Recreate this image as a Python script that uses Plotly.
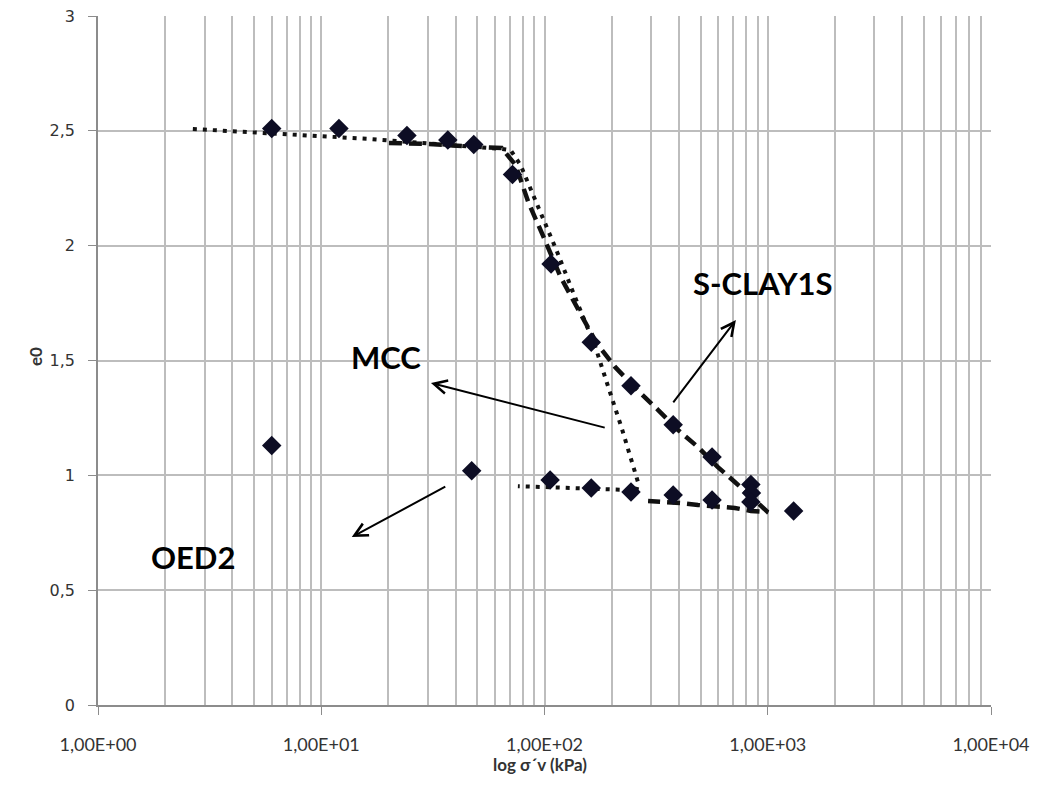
import plotly.graph_objects as go
import math

# ---- data ----
# measured points (OED2)
oed_x = [6.0, 12.0, 24.2, 36.9, 48.2, 71.9, 107, 162, 244, 377, 563, 840,
         6.0, 47.2, 106, 162, 244, 377, 563, 845, 840, 1306]
oed_y = [2.51, 2.51, 2.48, 2.46, 2.44, 2.31, 1.92, 1.58, 1.39, 1.22, 1.08, 0.96,
         1.13, 1.02, 0.98, 0.945, 0.927, 0.914, 0.893, 0.923, 0.884, 0.845]

# MCC model (dotted)
mcc_x = [2.66, 16.9, 66, 70.5, 78.1, 94.0, 113, 137, 169, 193, 221, 255, 263, 258, 160, 76]
mcc_y = [2.508, 2.464, 2.42, 2.416, 2.351, 2.168, 1.981, 1.776, 1.559, 1.385, 1.21, 1.01, 0.967, 0.935, 0.942, 0.953]

# S-CLAY1S model (dashed)
sc_x = [20.1, 29.4, 42.6, 60.4, 64.3, 74.2, 84.9, 99, 118, 142, 171, 207, 255, 323, 397, 487, 598, 712,
        1000, 840, 712, 487, 409, 291]
sc_y = [2.447, 2.443, 2.434, 2.425, 2.425, 2.351, 2.186, 2.038, 1.864, 1.72, 1.576, 1.472, 1.38, 1.284,
        1.197, 1.123, 1.036, 0.971, 0.84, 0.845, 0.858, 0.871, 0.879, 0.888]

x_tickvals = [1, 10, 100, 1000, 10000]
x_ticktext = ["1,00E+00", "1,00E+01", "1,00E+02", "1,00E+03", "1,00E+04"]
y_tickvals = [0, 0.5, 1, 1.5, 2, 2.5, 3]
y_ticktext = ["0", "0,5", "1", "1,5", "2", "2,5", "3"]
x_title = "log σ´v (kPa)"
y_title = "e0"

# annotations: label text, position (x in kPa, y)
labels = [("MCC", 19.5, 1.515), ("S-CLAY1S", 951, 1.837), ("OED2", 2.66, 0.644)]
# arrows: head (x, y), tail (x, y)
arrows = [((31, 1.402), (189, 1.206)),
          ((720, 1.676), (373, 1.311)),
          ((13.7, 0.731), (36.5, 0.954))]

fig = go.Figure()
fig.add_trace(go.Scatter(x=mcc_x, y=mcc_y, mode="lines",
                         line=dict(color="#111111", width=4, dash="4px,6px"),
                         showlegend=False, hoverinfo="skip"))
fig.add_trace(go.Scatter(x=sc_x, y=sc_y, mode="lines",
                         line=dict(color="#111111", width=4.5, dash="13px,7px"),
                         showlegend=False, hoverinfo="skip"))
fig.add_trace(go.Scatter(x=oed_x, y=oed_y, mode="markers",
                         marker=dict(symbol="diamond", size=15, color="#0d0d24"),
                         showlegend=False))

annots = []
for t, xv, yv in labels:
    annots.append(dict(x=math.log10(xv), y=yv, xref="x", yref="y", text="<b>%s</b>" % t,
                       showarrow=False, font=dict(family="Lato", size=31, color="#000000")))
for (hx, hy), (tx, ty) in arrows:
    annots.append(dict(x=math.log10(hx), y=hy, ax=math.log10(tx), ay=ty, xref="x", yref="y",
                       axref="x", ayref="y", text="", showarrow=True, arrowhead=5,
                       arrowsize=1.3, arrowwidth=2, arrowcolor="#000000"))
# axis titles
annots.append(dict(x=0.495, y=-0.086, xref="paper", yref="paper", text="<b>%s</b>" % x_title,
                   showarrow=False, xanchor="center", yanchor="middle",
                   font=dict(family="Lato", size=17, color="#333333")))
annots.append(dict(x=-0.0705, y=0.505, xref="paper", yref="paper", text="<b>%s</b>" % y_title,
                   showarrow=False, xanchor="center", yanchor="middle", textangle=-90,
                   font=dict(family="Lato", size=17, color="#333333")))

fig.update_layout(
    width=1038, height=771,
    margin=dict(l=90, r=55, t=8, b=74),
    plot_bgcolor="white", paper_bgcolor="white",
    annotations=annots,
    xaxis=dict(type="log", range=[0, 4], tickvals=x_tickvals, ticktext=x_ticktext,
               automargin=False,
               showgrid=True, gridcolor="#bdbdbd", gridwidth=1.5,
               minor=dict(showgrid=True, gridcolor="#bdbdbd", gridwidth=1.5, dtick="D1"),
               showline=True, linecolor="#8c8c8c", linewidth=1.5,
               ticks="outside", ticklen=8, tickcolor="#8c8c8c",
               ticklabelstandoff=15, ticklabeloverflow="allow",
               tickfont=dict(family="Lato", size=18, color="#333333"),
               zeroline=False),
    yaxis=dict(range=[0, 3], tickvals=y_tickvals, ticktext=y_ticktext,
               automargin=False,
               showgrid=True, gridcolor="#bdbdbd", gridwidth=1.5,
               showline=True, linecolor="#8c8c8c", linewidth=1.5,
               ticks="outside", ticklen=8, tickcolor="#8c8c8c",
               ticklabelstandoff=10, ticklabeloverflow="allow",
               tickfont=dict(family="DejaVu Sans", size=16, color="#333333"),
               zeroline=False),
)

fig.write_html("out.html")
